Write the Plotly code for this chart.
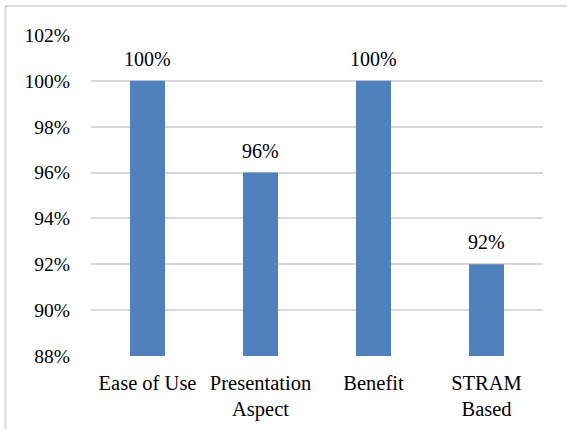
import plotly.graph_objects as go

categories = ["Ease of Use", "Presentation<br>Aspect", "Benefit", "STRAM<br>Based"]
scores = [100, 96, 100, 92]
bar_labels = [f"{v}%" for v in scores]

W, H = 567, 429
L, R, T, B = 91, 24, 35, 73
pw, ph = W - L - R, H - T - B

def px_x(x):
    return (x - L) / pw

def px_y(y):
    return (H - B - y) / ph

font_family = "Liberation Serif, Times New Roman, serif"

fig = go.Figure(
    go.Bar(
        x=categories,
        y=scores,
        marker=dict(color="#4F81BD", line=dict(width=0)),
    )
)

# value labels above each bar
for cat, val, lab in zip(categories, scores, bar_labels):
    fig.add_annotation(
        x=cat, y=val, text=lab, showarrow=False,
        yanchor="bottom", yshift=9,
        font=dict(family=font_family, size=20, color="#000000"),
    )

fig.update_layout(
    width=W,
    height=H,
    margin=dict(l=L, r=R, t=T, b=B),
    paper_bgcolor="white",
    plot_bgcolor="white",
    bargap=0.69,
    showlegend=False,
    font=dict(family=font_family, size=20, color="#000000"),
    xaxis=dict(showgrid=False, showline=False, ticks="", automargin=False,
               tickfont=dict(size=20.5), ticklabelstandoff=12),
    yaxis=dict(
        range=[88, 102],
        dtick=2,
        ticksuffix="%",
        showgrid=True,
        gridcolor="#D9D9D9",
        gridwidth=2,
        zeroline=False,
        showline=False,
        ticks="",
        automargin=False,
        tickfont=dict(size=19.5),
        ticklabelstandoff=20,
    ),
    shapes=[
        dict(type="line", xref="paper", yref="paper",
             x0=px_x(5.5), x1=px_x(567), y0=px_y(6), y1=px_y(6),
             line=dict(color="#D9D9D9", width=2)),
        dict(type="line", xref="paper", yref="paper",
             x0=px_x(5.5), x1=px_x(5.5), y0=px_y(6), y1=px_y(429),
             line=dict(color="#D9D9D9", width=2)),
    ],
)

fig.write_html("out.html")
